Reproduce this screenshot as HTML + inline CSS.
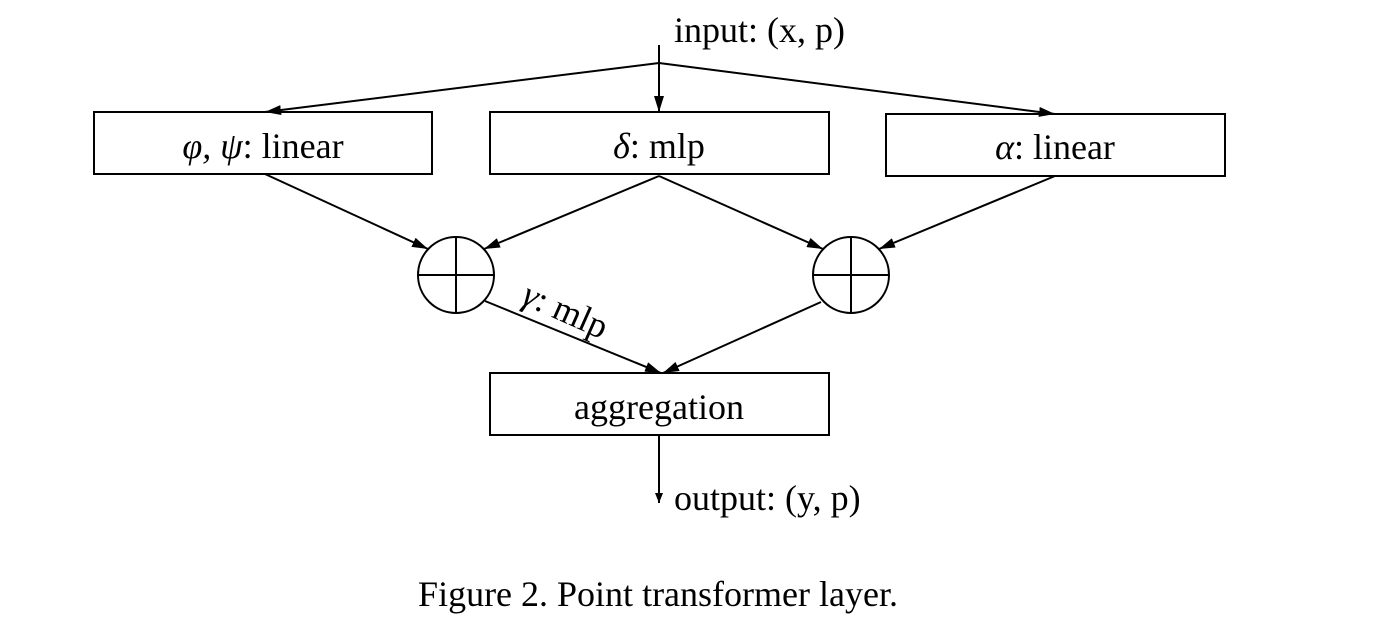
<!DOCTYPE html>
<html><head><style>
html,body{margin:0;padding:0;background:#fff;width:1386px;height:622px;overflow:hidden}
svg text{font-family:"Liberation Serif",serif;fill:#000}
</style></head><body>
<svg width="1386" height="622" viewBox="0 0 1386 622">
<defs><marker id="a" markerWidth="10" markerHeight="8" refX="10" refY="4" orient="auto" markerUnits="userSpaceOnUse"><path d="M0,0 L10,4 L0,8 Z" fill="#000"/></marker>
<marker id="b" markerWidth="16" markerHeight="10" refX="16" refY="5" orient="auto" markerUnits="userSpaceOnUse"><path d="M0,0 L16,5 L0,10 Z" fill="#000"/></marker></defs>
<g stroke="#000" stroke-width="2" fill="none">
<rect x="94" y="112" width="338" height="62"/>
<rect x="490" y="112" width="339" height="62"/>
<rect x="886" y="114" width="339" height="62"/>
<rect x="490" y="373" width="339" height="62"/>
<circle cx="456" cy="275" r="38"/><line x1="418" y1="275" x2="494" y2="275"/><line x1="456" y1="237" x2="456" y2="313"/>
<circle cx="851" cy="275" r="38"/><line x1="813" y1="275" x2="889" y2="275"/><line x1="851" y1="237" x2="851" y2="313"/>
<line x1="659" y1="45" x2="659" y2="112" marker-end="url(#b)"/>
<line x1="659" y1="63" x2="265" y2="112" marker-end="url(#b)"/>
<line x1="659" y1="63" x2="1055" y2="114" marker-end="url(#b)"/>
<line x1="265" y1="174" x2="428" y2="249" marker-end="url(#b)"/>
<line x1="659" y1="176" x2="484" y2="249" marker-end="url(#b)"/>
<line x1="659" y1="176" x2="823" y2="249" marker-end="url(#b)"/>
<line x1="1055" y1="176" x2="879" y2="249" marker-end="url(#b)"/>
<line x1="485" y1="301" x2="661" y2="373" marker-end="url(#b)"/>
<line x1="821" y1="302" x2="663" y2="373" marker-end="url(#b)"/>
<line x1="659" y1="435" x2="659" y2="503" marker-end="url(#a)"/>
</g>
<text x="674" y="42" font-size="36">input: (x, p)</text>
<text x="263" y="158" font-size="36" text-anchor="middle"><tspan font-style="italic">φ, ψ</tspan>: linear</text>
<text x="659" y="158" font-size="36" text-anchor="middle"><tspan font-style="italic">δ</tspan>: mlp</text>
<text x="1055" y="159" font-size="36" text-anchor="middle"><tspan font-style="italic">α</tspan>: linear</text>
<text x="659" y="419" font-size="36" text-anchor="middle">aggregation</text>
<text x="674" y="510" font-size="36">output: (y, p)</text>
<text transform="translate(520,303) rotate(24)" font-size="36"><tspan font-style="italic">γ</tspan>: mlp</text>
<text x="658" y="606" font-size="36" text-anchor="middle">Figure 2. Point transformer layer.</text>
</svg>
</body></html>
